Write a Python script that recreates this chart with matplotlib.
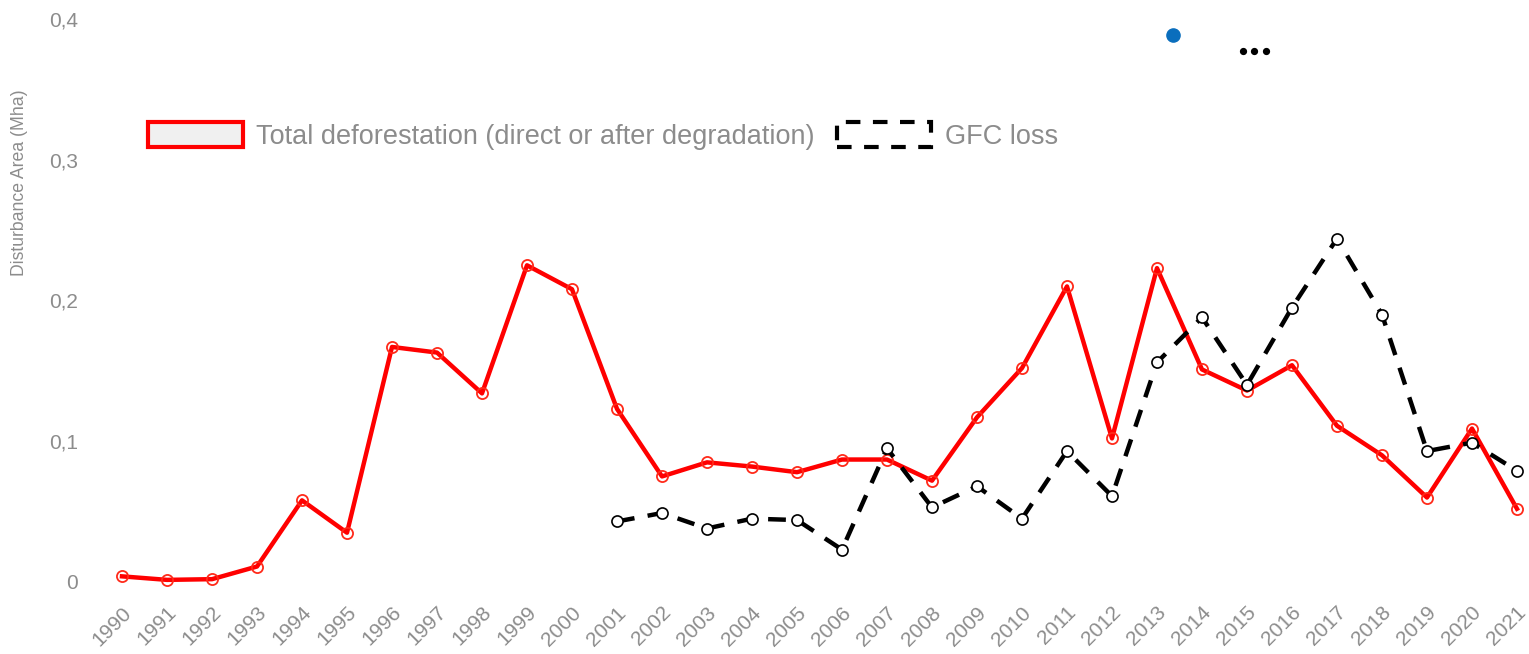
import matplotlib
matplotlib.use("Agg")
import matplotlib.pyplot as plt
from matplotlib.patches import Patch
from matplotlib.lines import Line2D
from matplotlib.ticker import FuncFormatter
import matplotlib.transforms as mtransforms

plt.rcParams['font.family'] = ['Liberation Sans', 'DejaVu Sans']

years = list(range(1990, 2022))
total_defor = [0.004, 0.0015, 0.002, 0.011, 0.058, 0.035, 0.167, 0.163, 0.134, 0.225,
               0.208, 0.123, 0.075, 0.085, 0.082, 0.078, 0.087, 0.087, 0.072, 0.117,
               0.152, 0.210, 0.102, 0.223, 0.151, 0.136, 0.154, 0.111, 0.090, 0.060,
               0.109, 0.052]
gfc_years = list(range(2001, 2022))
gfc_loss = [0.043, 0.049, 0.038, 0.045, 0.044, 0.023, 0.095, 0.053, 0.068, 0.045,
            0.093, 0.061, 0.156, 0.188, 0.140, 0.195, 0.244, 0.190, 0.093, 0.099, 0.079]
yticks = [0, 0.1, 0.2, 0.3, 0.4]

W, H = 1529, 654
fig = plt.figure(figsize=(W / 100, H / 100), dpi=100)
# axes in pixel terms: x 100..1529, y 19..600
ax = fig.add_axes([100 / W, 1 - 600 / H, (1529 - 100) / W, (600 - 19) / H])
ax.set_xlim(1989.511, 2021.267)
ax.set_ylim(-0.0128, 0.4)

gray = '#8c8c8c'
ax.plot(years, total_defor, color='#ff0000', lw=3.2, marker='o', markersize=8,
        markerfacecolor='none', markeredgecolor='#ff2a1a', markeredgewidth=1.3,
        solid_joinstyle='round', zorder=3)
ax.plot(gfc_years, gfc_loss, color='black', lw=3.2, linestyle=(0, (4, 3)),
        marker='o', markersize=8, markerfacecolor='white', markeredgecolor='black',
        markeredgewidth=1.2, zorder=4)

for s in ax.spines.values():
    s.set_visible(False)
ax.set_yticks(yticks)
ax.yaxis.set_major_formatter(FuncFormatter(lambda v, p: '0' if v == 0 else f'{v:.1f}'.replace('.', ',')))
ax.set_xticks(years)
ax.set_xticklabels([str(y) for y in years], rotation=45, ha='right', va='center',
                   rotation_mode='anchor')
ax.tick_params(axis='both', length=0, colors=gray, labelsize=15)
ax.tick_params(axis='y', pad=16)
ax.tick_params(axis='x', pad=7)
offset = mtransforms.ScaledTranslation(6 / 100, 0, fig.dpi_scale_trans)
for lab in ax.get_xticklabels():
    lab.set_transform(lab.get_transform() + offset)

fig.text(20 / W, 1 - 183 / H, 'Disturbance Area (Mha)', rotation=90, color=gray,
         fontsize=12.7, ha='center', va='center')

handles = [Patch(facecolor='#f0f0f0', edgecolor='#ff0000', lw=3),
           Patch(facecolor='white', edgecolor='black', lw=3, linestyle=(0, (3.5, 3)))]
labels = ['Total deforestation (direct or after degradation)', 'GFC loss']
leg = fig.legend(handles, labels, loc='center left', bbox_to_anchor=(148 / W, 1 - 136 / H),
                 bbox_transform=fig.transFigure, ncol=2, frameon=False, fontsize=19.5,
                 handlelength=3.5, handleheight=1.07, handletextpad=0.5,
                 columnspacing=0.8, borderpad=0, borderaxespad=0)
for t in leg.get_texts():
    t.set_color(gray)

# stray marks at top right
fig.add_artist(Line2D([1173 / W], [1 - 35 / H], marker='o', markersize=9.5, color='#0a6ebd',
                      linestyle='none', transform=fig.transFigure))
fig.add_artist(Line2D([1243 / W, 1254 / W, 1266 / W], [1 - 51 / H] * 3, marker='o',
                      markersize=4.2, color='black', linestyle='none', transform=fig.transFigure))

fig.savefig('out.png', dpi=100)
